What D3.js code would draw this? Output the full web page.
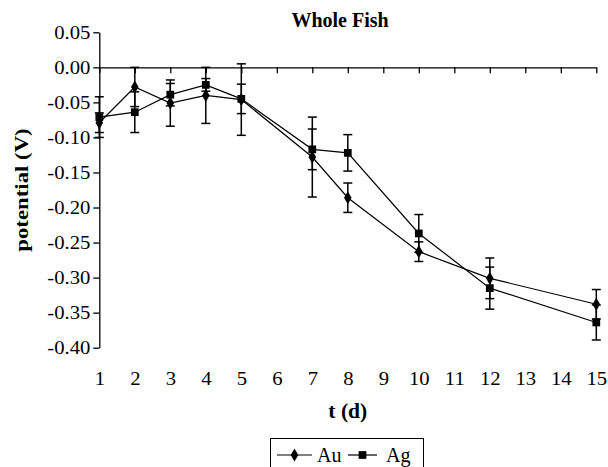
<!DOCTYPE html>
<html>
<head>
<meta charset="utf-8">
<script src="https://cdn.jsdelivr.net/npm/d3@7"></script>
<style>
  html, body { margin: 0; padding: 0; background: #fff; }
  svg { display: block; }
  text { font-family: "Liberation Serif", "Times New Roman", serif; fill: #000; }
</style>
</head>
<body>
<svg id="chart" width="608" height="467"></svg>
<script>
// Sampling days
const days = [1, 2, 3, 4, 5, 7, 8, 10, 12, 15];
// Electrode potential (V), mean and error for each electrode
const auValues = [-0.079, -0.028, -0.051, -0.040, -0.046, -0.128, -0.186, -0.263, -0.301, -0.338];
const auErrors = [0.014, 0.028, 0.033, 0.040, 0.051, 0.057, 0.021, 0.014, 0.029, 0.021];
const agValues = [-0.071, -0.064, -0.039, -0.025, -0.045, -0.117, -0.122, -0.237, -0.315, -0.364];
const agErrors = [0.029, 0.029, 0.016, 0.009, 0.021, 0.029, 0.026, 0.027, 0.030, 0.025];
const seriesNames = ["Au", "Ag"];
// Axis ticks
const yTicks = [0.05, 0.00, -0.05, -0.10, -0.15, -0.20, -0.25, -0.30, -0.35, -0.40];
const xTicks = [1, 2, 3, 4, 5, 6, 7, 8, 9, 10, 11, 12, 13, 14, 15];

const svg = d3.select("#chart");

const x = d3.scaleLinear().domain([1, 15]).range([99.3, 596.3]);
const y = d3.scaleLinear().domain([-0.40, 0.05]).range([347.7, 32.3]);

const fmt = v => d3.format(".2f")(v).replace("\u2212", "-");
const tickStretch = 1.15; // tick numerals are set slightly wide

// Y axis
const yAxis = svg.append("g")
  .attr("transform", `translate(${x(1)},0)`)
  .call(d3.axisLeft(y).tickValues(yTicks).tickFormat(fmt).tickSize(6).tickSizeOuter(0));
yAxis.attr("font-family", null);
yAxis.select(".domain").attr("stroke", "#000").attr("stroke-width", 1.3);
yAxis.selectAll(".tick line").attr("stroke", "#000").attr("stroke-width", 1.3);
yAxis.selectAll(".tick text")
  .attr("x", -9 / tickStretch)
  .attr("transform", `scale(${tickStretch},1)`)
  .attr("font-family", "Liberation Serif")
  .attr("font-size", 18)
  .attr("fill", "#000");

// X axis drawn along the zero line
const xAxis = svg.append("g")
  .attr("transform", `translate(0,${y(0)})`)
  .call(d3.axisBottom(x).tickValues(xTicks).tickFormat(d3.format("d")).tickSize(6).tickSizeOuter(0));
xAxis.attr("font-family", null);
xAxis.select(".domain").attr("stroke", "#000").attr("stroke-width", 1.3);
xAxis.selectAll(".tick line").attr("stroke", "#000").attr("stroke-width", 1.3);
// Day labels sit below the plot, not on the zero line
xAxis.selectAll(".tick text")
  .attr("y", y(-0.40) - y(0) + 37)
  .attr("dy", 0)
  .attr("transform", `scale(${tickStretch},1)`)
  .attr("font-family", "Liberation Serif")
  .attr("font-size", 18)
  .attr("fill", "#000");

// Titles
svg.append("text")
  .attr("x", 340).attr("y", 27)
  .attr("text-anchor", "middle")
  .attr("font-weight", "bold")
  .attr("font-size", 20)
  .text("Whole Fish");

svg.append("text")
  .attr("x", (x(1) + x(15)) / 2).attr("y", 418)
  .attr("text-anchor", "middle")
  .attr("font-weight", "bold")
  .attr("font-size", 20)
  .attr("transform", `translate(${(x(1) + x(15)) / 2},0) scale(1.08,1) translate(${-(x(1) + x(15)) / 2},0)`)
  .text("t (d)");

svg.append("text")
  .attr("transform", `translate(28,${(y(0.05) + y(-0.40)) / 2}) rotate(-90) scale(1.2,1)`)
  .attr("text-anchor", "middle")
  .attr("font-weight", "bold")
  .attr("font-size", 19)
  .text("potential (V)");

// Series
const series = [
  { name: seriesNames[0], values: auValues, errors: auErrors, symbol: d3.symbolDiamond, size: 50 },
  { name: seriesNames[1], values: agValues, errors: agErrors, symbol: d3.symbolSquare, size: 60 }
];

const line = d3.line().x(d => x(d.day)).y(d => y(d.v));
const capW = 4.5;

series.forEach(s => {
  const pts = days.map((d, i) => ({ day: d, v: s.values[i], e: s.errors[i] }));
  const g = svg.append("g");

  // error bars
  const eb = g.selectAll(".err").data(pts).enter().append("g");
  eb.append("line")
    .attr("x1", d => x(d.day)).attr("x2", d => x(d.day))
    .attr("y1", d => y(d.v + d.e)).attr("y2", d => y(d.v - d.e))
    .attr("stroke", "#000").attr("stroke-width", 1.5);
  [1, -1].forEach(sign => {
    eb.append("line")
      .attr("x1", d => x(d.day) - capW).attr("x2", d => x(d.day) + capW)
      .attr("y1", d => y(d.v + sign * d.e)).attr("y2", d => y(d.v + sign * d.e))
      .attr("stroke", "#000").attr("stroke-width", 1.5);
  });

  g.append("path")
    .attr("d", line(pts))
    .attr("fill", "none")
    .attr("stroke", "#000")
    .attr("stroke-width", 1.2);

  g.selectAll(".mk").data(pts).enter().append("path")
    .attr("transform", d => `translate(${x(d.day)},${y(d.v)})`)
    .attr("d", d3.symbol().type(s.symbol).size(s.size))
    .attr("fill", "#000");
});

// Legend
const legend = svg.append("g").attr("transform", "translate(270,438)");
legend.append("rect")
  .attr("x", 0.5).attr("y", 0.5)
  .attr("width", 153).attr("height", 40)
  .attr("fill", "#fff").attr("stroke", "#000").attr("stroke-width", 1);

const legendItems = [
  { name: seriesNames[0], symbol: d3.symbolDiamond, size: 50, x0: 7, x1: 42, tx: 47 },
  { name: seriesNames[1], symbol: d3.symbolSquare, size: 60, x0: 78, x1: 107, tx: 116 }
];
legendItems.forEach(it => {
  legend.append("line")
    .attr("x1", it.x0).attr("x2", it.x1)
    .attr("y1", 17).attr("y2", 17)
    .attr("stroke", "#000").attr("stroke-width", 1.2);
  legend.append("path")
    .attr("transform", `translate(${(it.x0 + it.x1) / 2},17)`)
    .attr("d", d3.symbol().type(it.symbol).size(it.size))
    .attr("fill", "#000");
  legend.append("text")
    .attr("x", it.tx).attr("y", 23.5)
    .attr("font-size", 20)
    .text(it.name);
});
</script>
</body>
</html>
